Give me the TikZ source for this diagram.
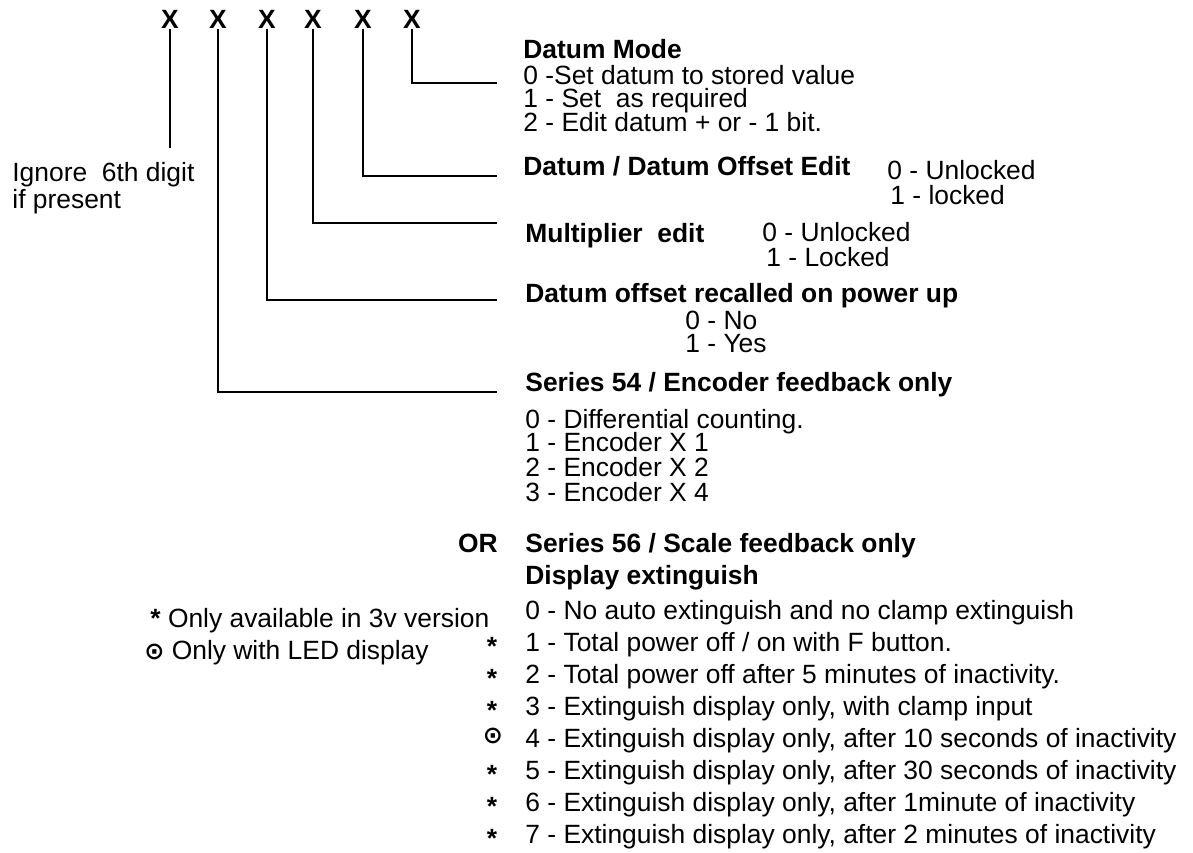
\documentclass[tikz,border=0pt]{standalone}
\usepackage{fontspec}
\setmainfont{Liberation Sans}
\newfontfamily\symfont{DejaVu Sans}

\tikzset{
  txt/.style={anchor=west, inner sep=0pt, text height=9.5pt, text depth=0pt, font=\fontsize{13.2}{16}\selectfont},
  head/.style={txt, font=\fontsize{13.2}{16}\selectfont\bfseries},
  digit/.style={inner sep=0pt, text height=9.5pt, text depth=0pt, font=\fontsize{13.2}{16}\selectfont\bfseries},
  flag/.style={inner sep=0pt, font=\fontsize{13.2}{16}\selectfont\bfseries},
  lead/.style={black, line width=1.2pt},
}
\newcommand{\ledsign}{{\symfont\bfseries\fontsize{12}{12}\selectfont ⊙}}

\begin{document}
\begin{tikzpicture}[x=0.5pt,y=-0.5pt]
	\useasboundingbox (0,0) rectangle (1193,852);

	% the six digits
	\node[digit] (d1) at (170,19) {X};
	\node[digit] (d2) at (218,19) {X};
	\node[digit] (d3) at (267,19) {X};
	\node[digit] (d4) at (313,19) {X};
	\node[digit] (d5) at (363,19) {X};
	\node[digit] (d6) at (412,19) {X};

	\coordinate (e1) at (170,148);
	\coordinate (e2) at (497,392);
	\coordinate (e3) at (497,300);
	\coordinate (e4) at (497,223);
	\coordinate (e5) at (497,176);
	\coordinate (e6) at (497,83);

	\draw[lead] (d1.south) -- (e1);
	\draw[lead] (d2.south) |- (e2);
	\draw[lead] (d3.south) |- (e3);
	\draw[lead] (d4.south) |- (e4);
	\draw[lead] (d5.south) |- (e5);
	\draw[lead] (d6.south) |- (e6);

	\node[txt] (ign1) at (12,172) {Ignore\ \ 6th digit};
	\node[txt] (ign2) at (12,199) {if present};

	% datum mode
	\node[head] (mode) at (523,49) {Datum Mode};
	\node[txt] (mode0) at (523,75) {0 -Set datum to stored value};
	\node[txt] (mode1) at (523,98) {1 - Set\ \ as required};
	\node[txt] (mode2) at (523,122) {2 - Edit datum + or - 1 bit.};

	% datum / offset edit
	\node[head] (offs) at (523,166) {Datum / Datum Offset Edit};
	\node[txt] (offs0) at (887,170) {0 - Unlocked};
	\node[txt] (offs1) at (890,195) {1 - locked};

	% multiplier
	\node[head] (mult) at (525,233) {Multiplier\ \ edit};
	\node[txt] (mult0) at (762,232) {0 - Unlocked};
	\node[txt] (mult1) at (766,257) {1 - Locked};

	% recall
	\node[head] (recall) at (525,293) {Datum offset recalled on power up};
	\node[txt] (recall0) at (685,320) {0 - No};
	\node[txt] (recall1) at (685,343) {1 - Yes};

	% series 54
	\node[head] (ser54) at (525,382) {Series 54 / Encoder feedback only};
	\node[txt] (enc0) at (525,419) {0 - Differential counting.};
	\node[txt] (enc1) at (525,442) {1 - Encoder X 1};
	\node[txt] (enc2) at (525,467) {2 - Encoder X 2};
	\node[txt] (enc3) at (525,492) {3 - Encoder X 4};

	% series 56
	\node[head, anchor=east] (or) at (498,543) {OR};
	\node[head] (ser56) at (525,543) {Series 56 / Scale feedback only};
	\node[head] (ext) at (525,575) {Display extinguish};
	\node[txt] (ext0) at (525,610) {0 - No auto extinguish and no clamp extinguish};
	\node[txt] (ext1) at (525,642) {1 - Total power off / on with F button.};
	\node[txt] (ext2) at (525,674) {2 - Total power off after 5 minutes of inactivity.};
	\node[txt] (ext3) at (525,706) {3 - Extinguish display only, with clamp input};
	\node[txt] (ext4) at (525,738) {4 - Extinguish display only, after 10 seconds of inactivity};
	\node[txt] (ext5) at (525,770) {5 - Extinguish display only, after 30 seconds of inactivity};
	\node[txt] (ext6) at (525,802) {6 - Extinguish display only, after 1minute of inactivity};
	\node[txt] (ext7) at (525,834) {7 - Extinguish display only, after 2 minutes of inactivity};

	\node[flag] (s1) at (492,646) {*};
	\node[flag] (s2) at (492,678) {*};
	\node[flag] (s3) at (492,710) {*};
	\node[flag] (s4) at (493,736) {\ledsign};
	\node[flag] (s5) at (492,774) {*};
	\node[flag] (s6) at (492,806) {*};
	\node[flag] (s7) at (492,838) {*};

	% key
	\node[txt] (key1) at (150,618) {\textbf{*} Only available in 3v version};
	\node[txt] (key2) at (144,650) {\ledsign\ Only with LED display};
\end{tikzpicture}
\end{document}
